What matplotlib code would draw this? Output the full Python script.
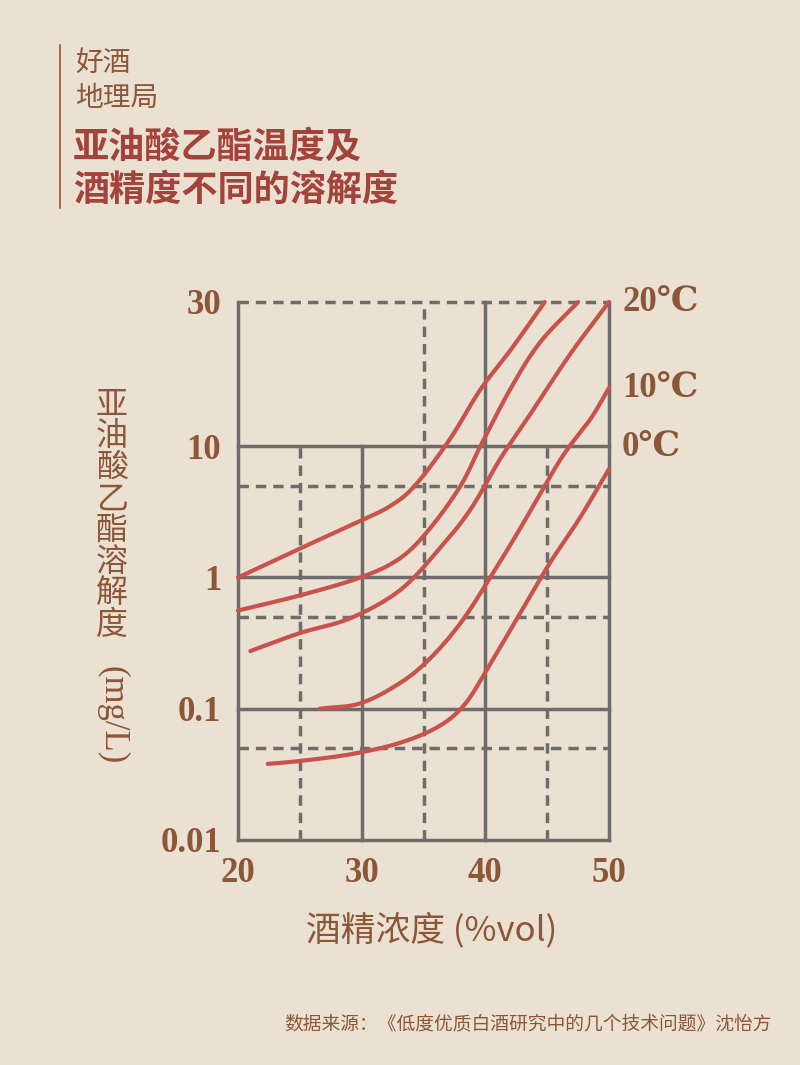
import numpy as np
import matplotlib
matplotlib.use("Agg")
import matplotlib.pyplot as plt

c1x=[20,25,29.9,32.3,34.3,37.1,39.6,42.0,44.8]
c1y=[1,1.66,2.7,3.5,5,10.5,15.4,20.7,30]
c2x=[20,25,29.9,33.1,35.5,38,39.6,42,44.4,47.5]
c2y=[0.56,0.73,1.0,1.4,2.35,5,10,15.4,22,30]
c3x=[21,25,29.1,33.1,36.3,38.8,41.2,43.6,46.8,50]
c3y=[0.275,0.377,0.49,0.8,1.66,3.3,8,12.7,20,30]
c4x=[26.6,29.9,33.1,35.5,38,40.4,42.8,46.1,48.5,50]
c4y=[0.1,0.11,0.157,0.24,0.45,1.0,2.35,8,12.3,15.6]
c5x=[22.4,25,29.1,33.1,36.3,38.4,40.4,42.8,45.2,47.6,50]
c5y=[0.038,0.040,0.045,0.055,0.074,0.11,0.22,0.53,1.28,2.8,6.7]
curves=[(c1x,c1y),(c2x,c2y),(c3x,c3y),(c4x,c4y),(c5x,c5y)]
xticks=[20,30,40,50]
yticks=[0.01,0.1,1,10,30]
ytlabels=["0.01","0.1","1","10","30"]

BG="#eae1d3"; BROWN="#8c5638"; RED="#a3433b"; LINE="#c9534c"; GRID="#6f6d6b"
CJK=['Noto Sans CJK SC','DejaVu Sans']
SERIF=['Liberation Serif','DejaVu Serif','Noto Sans CJK SC']

S=145/132/np.log10(3)
def fwd(v):
    l=np.log10(np.clip(v,1e-6,None))
    return np.where(l<=1,l,1+(l-1)*S)
def inv(p):
    p=np.asarray(p,float)
    return np.where(p<=1,10**p,10**(1+(p-1)/S))

def smooth(x,y,n=20):
    # Catmull-Rom rendering through the read points (in display-like space)
    P=np.column_stack([np.asarray(x,float)/3.0,fwd(np.asarray(y,float))])
    P=np.vstack([2*P[0]-P[1],P,2*P[-1]-P[-2]])
    out=[]
    t=np.linspace(0,1,n,endpoint=False)[:,None]
    for i in range(1,len(P)-2):
        p0,p1,p2,p3=P[i-1],P[i],P[i+1],P[i+2]
        seg=0.5*((2*p1)+(-p0+p2)*t+(2*p0-5*p1+4*p2-p3)*t**2+(-p0+3*p1-3*p2+p3)*t**3)
        out.append(seg)
    out.append(P[-2][None,:])
    Q=np.vstack(out)
    return Q[:,0]*3.0,inv(Q[:,1])

fig=plt.figure(figsize=(8,10.65),dpi=100,facecolor=BG)
ax=fig.add_axes([238/800,1-840/1065,(609-238)/800,(840-302)/1065])
ax.set_facecolor('none')
ax.set_yscale('function',functions=(fwd,inv))
ax.set_xlim(20,50); ax.set_ylim(0.01,30)
for s in ax.spines.values(): s.set_visible(False)
ax.tick_params(length=0,pad=12)
ax.set_xticks(xticks); ax.set_xticklabels([str(t) for t in xticks],family=SERIF,fontsize=25,color=BROWN,weight='bold')
ax.set_yticks(yticks); ax.set_yticklabels(ytlabels,family=SERIF,fontsize=25,color=BROWN,weight='bold')
ax.minorticks_off()
kw=dict(color=GRID,lw=2.5,clip_on=False,zorder=1)
dk=dict(color=GRID,lw=2.5,ls=(0,(3,2)),clip_on=False,zorder=1)
ax.plot([20,20],[0.01,30],**kw); ax.plot([50,50],[0.01,30],**kw)
ax.plot([30,30],[0.01,10],**kw); ax.plot([40,40],[0.01,30],**kw)
ax.plot([25,25],[0.01,10],**dk); ax.plot([35,35],[0.01,30],**dk); ax.plot([45,45],[0.01,10],**dk)
for yv in [0.01,0.1,1,10]: ax.plot([20,50],[yv,yv],**kw)
for yv in [0.05,0.5,5,30]: ax.plot([20,50],[yv,yv],**dk)
for x,y in curves:
    sx,sy=smooth(x,y)
    ax.plot(sx,sy,color=LINE,lw=3,zorder=3,clip_on=False,solid_capstyle='round')
for t,yp in [("20℃",302),("10℃",388),("0℃",447)]:
    fig.text(622/800,1-yp/1065,t,family=SERIF,fontsize=25,color=BROWN,va='center',weight='bold')
fig.text(0.5*(238+609)/800+0.01,1-930/1065,"酒精浓度 (%vol)",family=CJK,fontsize=25,color=BROWN,ha='center',va='center')
fig.text(112/800,1-515/1065,"\n".join("亚油酸乙酯溶解度"),family=CJK,fontsize=23,color=BROWN,ha='center',va='center',linespacing=0.98)
fig.text(112/800,1-715/1065,"(mg/L)",family=SERIF,fontsize=25,color=BROWN,ha='center',va='center',rotation=270)
fig.add_artist(plt.Line2D([60/800,60/800],[1-45/1065,1-208/1065],color=BROWN,lw=1.2))
fig.text(75/800,1-63/1065,"好酒",family=CJK,fontsize=20,color=BROWN,va='center')
fig.text(75/800,1-98/1065,"地理局",family=CJK,fontsize=20,color=BROWN,va='center')
fig.text(73/800,1-147/1065,"亚油酸乙酯温度及",family=CJK,fontsize=26,color=RED,weight='bold',va='center')
fig.text(73/800,1-190/1065,"酒精度不同的溶解度",family=CJK,fontsize=26,color=RED,weight='bold',va='center')
fig.text(772/800,1-1025/1065,"数据来源：《低度优质白酒研究中的几个技术问题》沈怡方",family=CJK,fontsize=13.5,color=BROWN,ha='right',va='center')
fig.savefig("out.png",dpi=100,facecolor=BG)
